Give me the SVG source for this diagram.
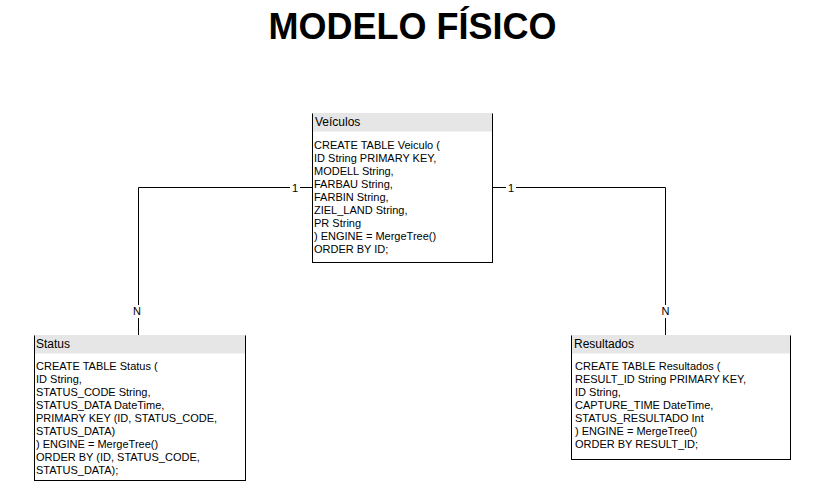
<svg xmlns="http://www.w3.org/2000/svg" width="825" height="482" viewBox="0 0 825 482">
<style>
.box{fill:#ffffff;stroke:#000000;stroke-width:1}
.hdr{fill:#e6e6e6;stroke:none}
.ht{font-family:"Liberation Sans",Arial,sans-serif;font-size:12px;fill:#000}
.bt{font-family:"Liberation Sans",Arial,sans-serif;font-size:11px;fill:#000}
.edge{fill:none;stroke:#000;stroke-width:1}
.lbl{font-family:"Liberation Sans",Arial,sans-serif;font-size:11px;fill:#000;text-anchor:middle}
.lbg{fill:#fff}
.title{font-family:"Liberation Sans",Arial,sans-serif;font-size:36px;font-weight:bold;fill:#000;text-anchor:middle}
</style>
<rect width="825" height="482" fill="#ffffff"/>
<text class="title" x="412.5" y="39">MODELO FÍSICO</text>
<g id="connectors">
<path class="edge" d="M312,187.5 H138.5 V335"/>
<path class="edge" d="M493,187.5 H665.5 V335"/>
<rect class="lbg" x="290" y="181" width="10" height="13"/>
<text class="lbl" x="295" y="191.5">1</text>
<rect class="lbg" x="130" y="305" width="14" height="13"/>
<text class="lbl" x="137" y="315">N</text>
<rect class="lbg" x="506" y="181" width="10" height="13"/>
<text class="lbl" x="511" y="191.5">1</text>
<rect class="lbg" x="658" y="305" width="14" height="13"/>
<text class="lbl" x="665.5" y="315">N</text>
</g>
<g id="veiculos">
<rect class="box" x="312.5" y="113.5" width="180" height="149"/>
<rect class="hdr" x="313" y="114" width="179" height="17.5"/>
<line x1="312.5" y1="113.5" x2="492.5" y2="113.5" stroke="#e6e6e6"/>
<text class="ht" x="315" y="126">Veículos</text>
<text class="bt">
<tspan x="314" y="149">CREATE TABLE Veiculo (</tspan>
<tspan x="314" y="162">ID String PRIMARY KEY,</tspan>
<tspan x="314" y="175">MODELL String,</tspan>
<tspan x="314" y="188">FARBAU String,</tspan>
<tspan x="314" y="201">FARBIN String,</tspan>
<tspan x="314" y="214">ZIEL_LAND String,</tspan>
<tspan x="314" y="227">PR String</tspan>
<tspan x="314" y="240">) ENGINE = MergeTree()</tspan>
<tspan x="314" y="253">ORDER BY ID;</tspan>
</text>
</g>
<g id="status">
<rect class="box" x="34.5" y="335.5" width="211" height="145"/>
<rect class="hdr" x="35" y="336" width="210" height="17.5"/>
<line x1="34.5" y1="335.5" x2="245.5" y2="335.5" stroke="#e6e6e6"/>
<text class="ht" x="36" y="348">Status</text>
<text class="bt">
<tspan x="36" y="370">CREATE TABLE Status (</tspan>
<tspan x="36" y="383">ID String,</tspan>
<tspan x="36" y="396">STATUS_CODE String,</tspan>
<tspan x="36" y="409">STATUS_DATA DateTime,</tspan>
<tspan x="36" y="422">PRIMARY KEY (ID, STATUS_CODE,</tspan>
<tspan x="36" y="435">STATUS_DATA)</tspan>
<tspan x="36" y="448">) ENGINE = MergeTree()</tspan>
<tspan x="36" y="461">ORDER BY (ID, STATUS_CODE,</tspan>
<tspan x="36" y="474">STATUS_DATA);</tspan>
</text>
</g>
<g id="resultados">
<rect class="box" x="571.5" y="335.5" width="219" height="124"/>
<rect class="hdr" x="572" y="336" width="218" height="17.5"/>
<line x1="571.5" y1="335.5" x2="790.5" y2="335.5" stroke="#e6e6e6"/>
<text class="ht" x="574" y="348">Resultados</text>
<text class="bt">
<tspan x="575" y="370">CREATE TABLE Resultados (</tspan>
<tspan x="575" y="383">RESULT_ID String PRIMARY KEY,</tspan>
<tspan x="575" y="396">ID String,</tspan>
<tspan x="575" y="409">CAPTURE_TIME DateTime,</tspan>
<tspan x="575" y="422">STATUS_RESULTADO Int</tspan>
<tspan x="575" y="435">) ENGINE = MergeTree()</tspan>
<tspan x="575" y="448">ORDER BY RESULT_ID;</tspan>
</text>
</g>
</svg>
